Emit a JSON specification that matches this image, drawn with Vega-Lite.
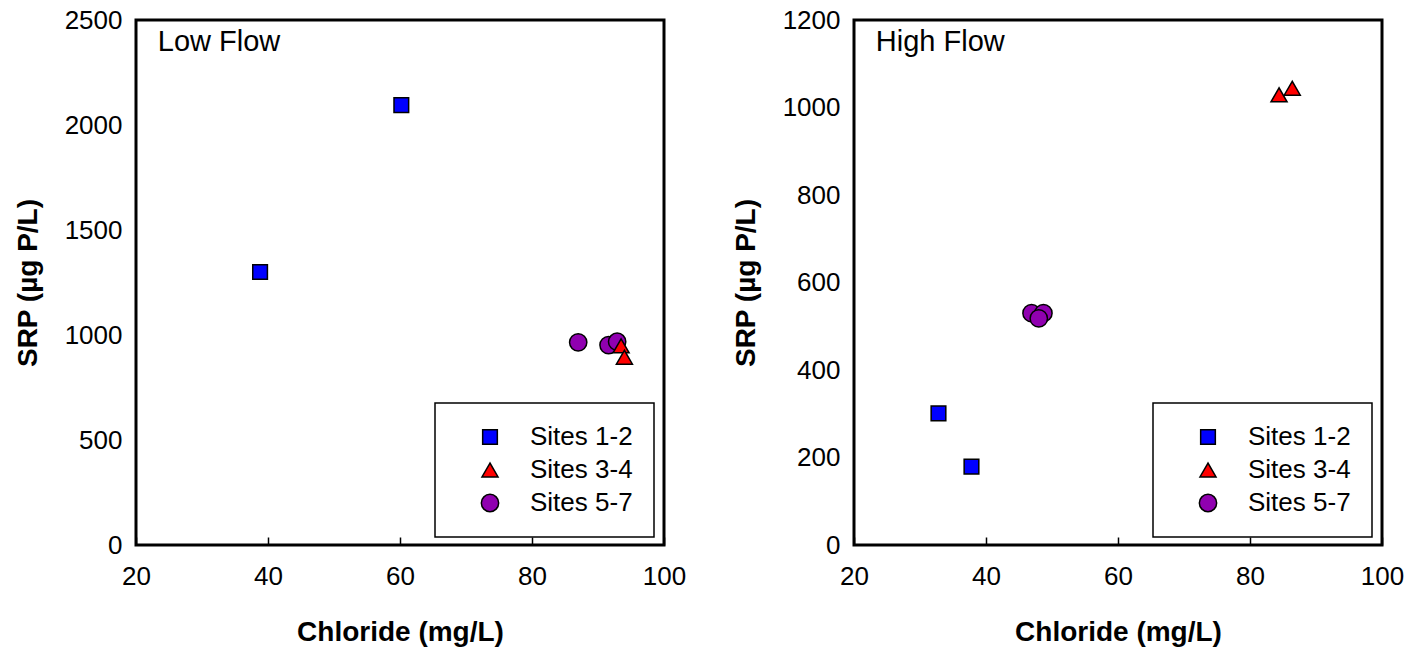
{
  "$schema": "https://vega.github.io/schema/vega-lite/v6.json",
  "background": "white",
  "padding": {"left": 12, "top": 5, "right": 5, "bottom": 5},
  "config": {
    "font": "Liberation Sans",
    "view": {"stroke": "black", "strokeWidth": 3},
    "axis": {"grid": false, "domain": false, "labelFont": "Liberation Sans", "labelFontSize": 26, "labelColor": "black", "titleFont": "Liberation Sans", "titleFontSize": 28, "titleFontWeight": "bold", "titleColor": "black", "labelFlush": false, "labelOverlap": false, "format": "d"},
    "axisX": {"tickSize": -8, "tickColor": "black", "tickWidth": 1.5, "labelPadding": 26, "titlePadding": 29},
    "axisY": {"ticks": false, "labelPadding": 14, "titlePadding": 22},
    "legend": {"orient": "none", "legendX": 299, "legendY": 383, "strokeColor": "black", "strokeWidth": 1.5, "fillColor": "white", "padding": 21, "symbolOffset": 21, "labelOffset": 27, "labelFont": "Liberation Sans", "labelFontSize": 26, "labelColor": "black", "symbolSize": 240, "symbolStrokeColor": "black", "symbolStrokeWidth": 1.5, "rowPadding": 7, "labelLimit": 300}
  },
  "datasets": {
    "low": [
      {"chloride": 38.8, "srp": 1300, "group": "Sites 1-2"},
      {"chloride": 60.2, "srp": 2095, "group": "Sites 1-2"},
      {"chloride": 87.0, "srp": 965, "group": "Sites 5-7"},
      {"chloride": 91.6, "srp": 952, "group": "Sites 5-7"},
      {"chloride": 92.9, "srp": 968, "group": "Sites 5-7"},
      {"chloride": 93.5, "srp": 948, "group": "Sites 3-4"},
      {"chloride": 94.0, "srp": 894, "group": "Sites 3-4"}
    ],
    "high": [
      {"chloride": 32.8, "srp": 301, "group": "Sites 1-2"},
      {"chloride": 37.8, "srp": 179, "group": "Sites 1-2"},
      {"chloride": 46.9, "srp": 530, "group": "Sites 5-7"},
      {"chloride": 48.7, "srp": 530, "group": "Sites 5-7"},
      {"chloride": 48.0, "srp": 518, "group": "Sites 5-7"},
      {"chloride": 84.4, "srp": 1029, "group": "Sites 3-4"},
      {"chloride": 86.4, "srp": 1044, "group": "Sites 3-4"}
    ],
    "lowLabel": [{"panel": "Low Flow"}],
    "highLabel": [{"panel": "High Flow"}]
  },
  "spacing": 42,
  "hconcat": [
    {
      "width": 528,
      "height": 525,
      "layer": [
        {
          "data": {"name": "low"},
          "mark": {"type": "point", "filled": true, "stroke": "black", "strokeWidth": 1.5, "opacity": 1},
          "encoding": {
            "x": {"field": "chloride", "type": "quantitative", "scale": {"domain": [20, 100], "nice": false, "zero": false}, "axis": {"values": [20, 40, 60, 80, 100], "title": "Chloride (mg/L)"}},
            "y": {"field": "srp", "type": "quantitative", "scale": {"domain": [0, 2500], "nice": false}, "axis": {"values": [0, 500, 1000, 1500, 2000, 2500], "title": "SRP (µg P/L)"}},
            "color": {"field": "group", "type": "nominal", "scale": {"domain": ["Sites 1-2", "Sites 3-4", "Sites 5-7"], "range": ["#0000FF", "#FF0000", "#9000B0"]}, "legend": {"title": null}},
            "shape": {"field": "group", "type": "nominal", "scale": {"domain": ["Sites 1-2", "Sites 3-4", "Sites 5-7"], "range": ["square", "triangle-up", "circle"]}, "legend": {"title": null}},
            "size": {"field": "group", "type": "nominal", "scale": {"domain": ["Sites 1-2", "Sites 3-4", "Sites 5-7"], "range": [215, 300, 245]}, "legend": null}
          }
        },
        {
          "data": {"name": "lowLabel"},
          "mark": {"type": "text", "align": "left", "baseline": "alphabetic", "fontSize": 29, "font": "Liberation Sans", "color": "black"},
          "encoding": {
            "x": {"datum": 23.3, "type": "quantitative"},
            "y": {"datum": 2352, "type": "quantitative"},
            "text": {"field": "panel"}
          }
        }
      ]
    },
    {
      "width": 528,
      "height": 525,
      "layer": [
        {
          "data": {"name": "high"},
          "mark": {"type": "point", "filled": true, "stroke": "black", "strokeWidth": 1.5, "opacity": 1},
          "encoding": {
            "x": {"field": "chloride", "type": "quantitative", "scale": {"domain": [20, 100], "nice": false, "zero": false}, "axis": {"values": [20, 40, 60, 80, 100], "title": "Chloride (mg/L)"}},
            "y": {"field": "srp", "type": "quantitative", "scale": {"domain": [0, 1200], "nice": false}, "axis": {"values": [0, 200, 400, 600, 800, 1000, 1200], "title": "SRP (µg P/L)"}},
            "color": {"field": "group", "type": "nominal", "scale": {"domain": ["Sites 1-2", "Sites 3-4", "Sites 5-7"], "range": ["#0000FF", "#FF0000", "#9000B0"]}, "legend": {"title": null}},
            "shape": {"field": "group", "type": "nominal", "scale": {"domain": ["Sites 1-2", "Sites 3-4", "Sites 5-7"], "range": ["square", "triangle-up", "circle"]}, "legend": {"title": null}},
            "size": {"field": "group", "type": "nominal", "scale": {"domain": ["Sites 1-2", "Sites 3-4", "Sites 5-7"], "range": [215, 300, 245]}, "legend": null}
          }
        },
        {
          "data": {"name": "highLabel"},
          "mark": {"type": "text", "align": "left", "baseline": "alphabetic", "fontSize": 29, "font": "Liberation Sans", "color": "black"},
          "encoding": {
            "x": {"datum": 23.3, "type": "quantitative"},
            "y": {"datum": 1129, "type": "quantitative"},
            "text": {"field": "panel"}
          }
        }
      ]
    }
  ],
  "resolve": {"scale": {"color": "independent", "shape": "independent", "size": "independent", "x": "independent", "y": "independent"}}
}
